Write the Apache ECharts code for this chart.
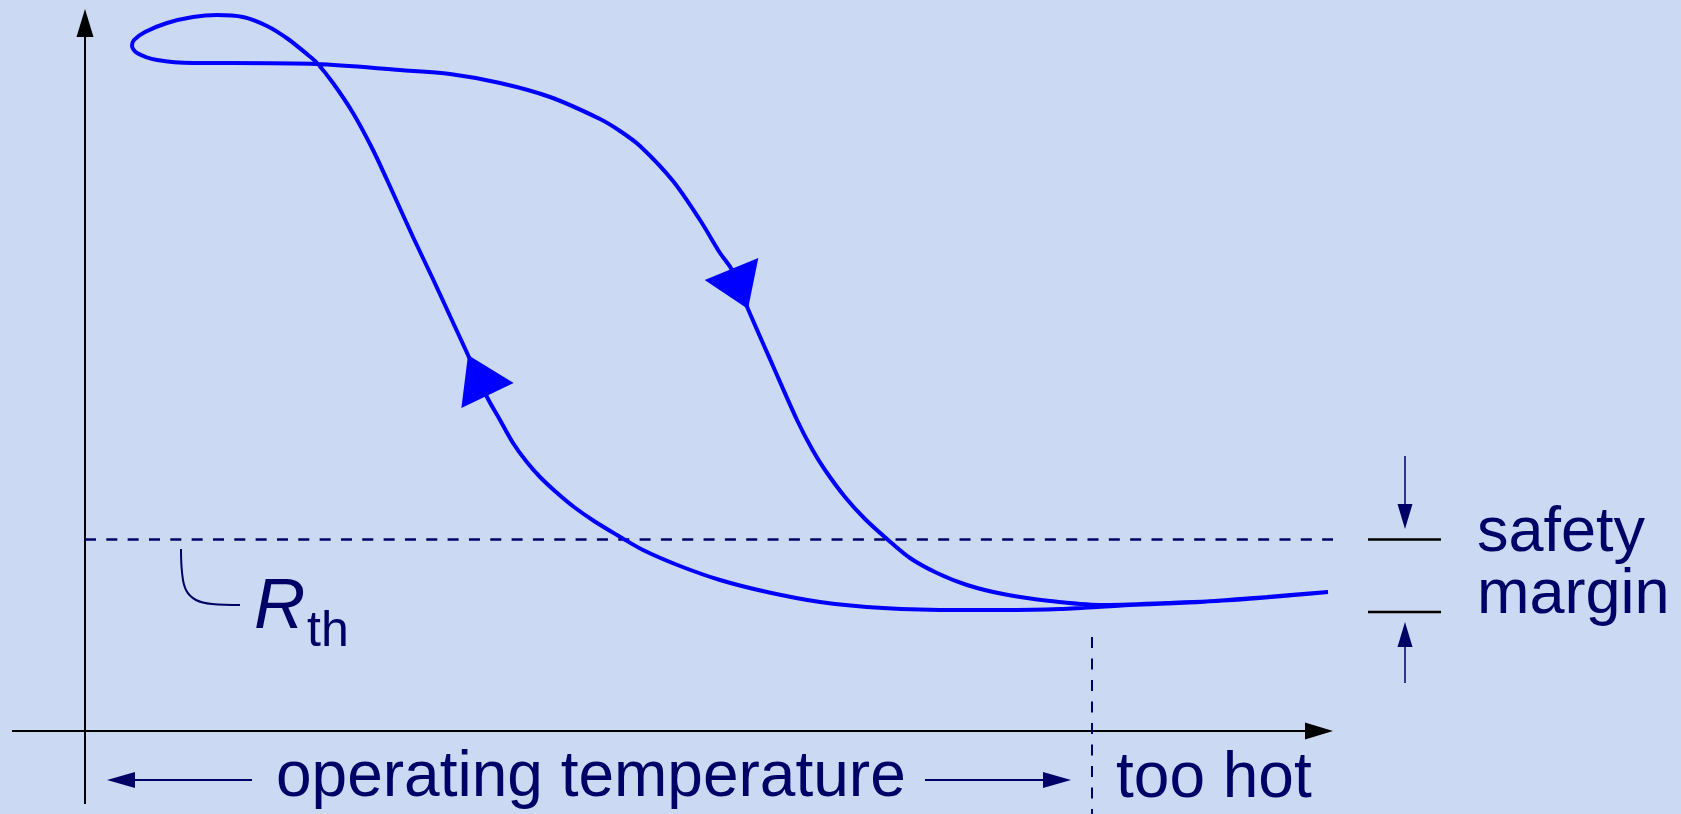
<!DOCTYPE html>
<html>
<head>
<meta charset="utf-8">
<script src="https://cdn.jsdelivr.net/npm/echarts@6/dist/echarts.min.js"></script>
<style>
html,body{margin:0;padding:0;background:#cbd9f2;}
#chart{width:1681px;height:814px;}
</style>
</head>
<body>
<div id="chart"></div>
<script>
// ---- data (units: temperature on x, resistance on y; origin = crossing of the axes) ----
// hysteresis loop traced as one path: cooling branch (lower, going left & up), loop, heating branch (down & right)
const hysteresisCurve = [
  [1243,139],[1182,134],[1115,129],[1045,126],[975,122],[915,121],[875,121],[798,123],
  [735,129],[682,139],[635,151],[595,165],[558,181],[532,196],[509,210],[489,224],
  [471,239],[455,254],[441,270],[428,288],[415,311],[402,334],[383,376],[365,415],
  [347,454],[328,494],[308,538],[288,581],[268,618],[248,648],[232,668],[223,676],
  [203,692],[182,705],[158,714],[132,716],[108,714],[82,708],[60,699],[49,691],
  [47,685],[52,678],[72,671],[108,668],[148,668],[232,667],[315,661],[365,657],
  [415,648],[465,634],[515,612],[535,600],[555,585],[588,550],[615,511],[635,478],[647,461],
  [663,422],[688,365],[712,311],[727,282],[740,261],[760,234],[780,212],[802,192],
  [825,173],[852,158],[882,146],[918,137],[965,130],[1015,126],[1082,128],[1148,131],
  [1243,139]
];
// direction arrows on the curve: [baseX, baseY, tipX, tipY]
const curveArrows = [
  [646.5,462, 663,422],
  [402.5,335.5, 383,376]
];
// axes: [tailX, tailY, tipX, tipY]
const axisArrows = [
  [-73, 0, 1248, 0],
  [0, -73, 0, 722]
];
const thresholdR = 191.5;          // R_th
const thresholdXRange = [0, 1248];
const curveMinimum = 119;          // lowest resistance reached -> lower edge of safety margin
const tooHotX = 1007;              // temperature where "too hot" starts
const tooHotYRange = [94, -83];
const safetyXRange = [1283, 1356];
const safetyArrows = [             // [tailX, tailY, tipX, tipY]
  [1320, 275, 1320, 202],
  [1320, 48, 1320, 109]
];
const tempArrows = [
  [167, -49, 22, -49],
  [840, -49, 986, -49]
];
const rthLeader = [[96,182],[97,159],[101,141],[111,131],[127,127],[155,126]];
const labels = {
  operating: 'operating temperature',
  tooHot: 'too hot',
  safety: 'safety',
  margin: 'margin',
  R: 'R',
  th: 'th'
};

const NAVY = '#000066';
const BLUE = '#0000ff';
const FONT = '"Liberation Sans", Arial, Helvetica, sans-serif';

function arrowSeries(name, data, st) {
  return {
    type: 'custom', name: name, coordinateSystem: 'cartesian2d', clip: false, silent: true,
    z: st.z || 3, data: data,
    renderItem: function (params, api) {
      const a = api.coord([api.value(0), api.value(1)]);
      const b = api.coord([api.value(2), api.value(3)]);
      const dx = b[0] - a[0], dy = b[1] - a[1];
      const len = Math.hypot(dx, dy);
      const ux = dx / len, uy = dy / len;
      const hl = st.headLen == null ? len : st.headLen;
      const hw = st.headHalf;
      const bx = b[0] - ux * hl, by = b[1] - uy * hl;
      const children = [];
      if (hl < len) {
        children.push({type: 'line', shape: {x1: a[0], y1: a[1], x2: bx + ux * 2, y2: by + uy * 2},
          style: {stroke: st.color, lineWidth: st.lineWidth}});
      }
      children.push({type: 'polygon',
        shape: {points: [[b[0], b[1]], [bx - uy * hw, by + ux * hw], [bx + uy * hw, by - ux * hw]]},
        style: {fill: st.color}});
      return {type: 'group', children: children};
    }
  };
}

const chart = echarts.init(document.getElementById('chart'), null, {renderer: 'canvas'});

const axisCommon = {
  type: 'value', show: false,
  axisTick: {show: false}, axisLabel: {show: false}, splitLine: {show: false}, axisLine: {show: false}
};

chart.setOption({
  animation: false,
  backgroundColor: '#cbd9f2',
  grid: {left: 0, right: 0, top: 0, bottom: 0, containLabel: false},
  xAxis: Object.assign({}, axisCommon, {min: -85, max: 1596}),
  yAxis: Object.assign({}, axisCommon, {min: -83, max: 731}),
  series: [
    arrowSeries('axes', axisArrows, {color: '#000', headLen: 28, headHalf: 8.5, lineWidth: 2, z: 2}),
    {type: 'line', name: 'R_th', data: thresholdXRange.map(x => [x, thresholdR]), symbol: 'none', clip: false,
      silent: true, lineStyle: {color: NAVY, width: 2.5, type: [11, 10.33]}, z: 2},
    {type: 'line', name: 'too hot', data: tooHotYRange.map(y => [tooHotX, y]), symbol: 'none', clip: false,
      silent: true, lineStyle: {color: NAVY, width: 2, type: [11, 10.5]}, z: 2},
    {type: 'line', name: 'safety top', data: safetyXRange.map(x => [x, thresholdR]), symbol: 'none', clip: false,
      silent: true, lineStyle: {color: '#000', width: 2.5}, z: 2},
    {type: 'line', name: 'safety bottom', data: safetyXRange.map(x => [x, curveMinimum]), symbol: 'none', clip: false,
      silent: true, lineStyle: {color: '#000', width: 2.5}, z: 2},
    {type: 'line', name: 'leader', data: rthLeader, smooth: 0.4, symbol: 'none', clip: false,
      silent: true, lineStyle: {color: NAVY, width: 2}, z: 2},
    {type: 'line', name: 'resistance', data: hysteresisCurve, smooth: 0.3, symbol: 'none', clip: false,
      silent: true, lineStyle: {color: BLUE, width: 4}, z: 4},
    arrowSeries('curve arrows', curveArrows, {color: BLUE, headHalf: 29, z: 5}),
    arrowSeries('safety arrows', safetyArrows, {color: NAVY, headLen: 25, headHalf: 7.5, lineWidth: 1.5}),
    arrowSeries('temperature arrows', tempArrows, {color: NAVY, headLen: 28, headHalf: 8, lineWidth: 2})
  ],
  graphic: [
    {type: 'text', x: 276, y: 778, silent: true,
      style: {text: labels.operating, fill: NAVY, fontSize: 64, fontFamily: FONT, align: 'left', verticalAlign: 'middle'}},
    {type: 'text', x: 1116, y: 779, silent: true,
      style: {text: labels.tooHot, fill: NAVY, fontSize: 64, fontFamily: FONT, align: 'left', verticalAlign: 'middle'}},
    {type: 'text', x: 1477, y: 534, silent: true,
      style: {text: labels.safety, fill: NAVY, fontSize: 63, fontFamily: FONT, align: 'left', verticalAlign: 'middle'}},
    {type: 'text', x: 1477, y: 596, silent: true,
      style: {text: labels.margin, fill: NAVY, fontSize: 63, fontFamily: FONT, align: 'left', verticalAlign: 'middle'}},
    {type: 'text', x: 254, y: 608, silent: true,
      style: {text: labels.R, fill: NAVY, fontSize: 71, fontStyle: 'italic', fontFamily: FONT, align: 'left', verticalAlign: 'middle'}},
    {type: 'text', x: 307, y: 632, silent: true,
      style: {text: labels.th, fill: NAVY, fontSize: 50, fontFamily: FONT, align: 'left', verticalAlign: 'middle'}}
  ]
});
</script>
</body>
</html>
